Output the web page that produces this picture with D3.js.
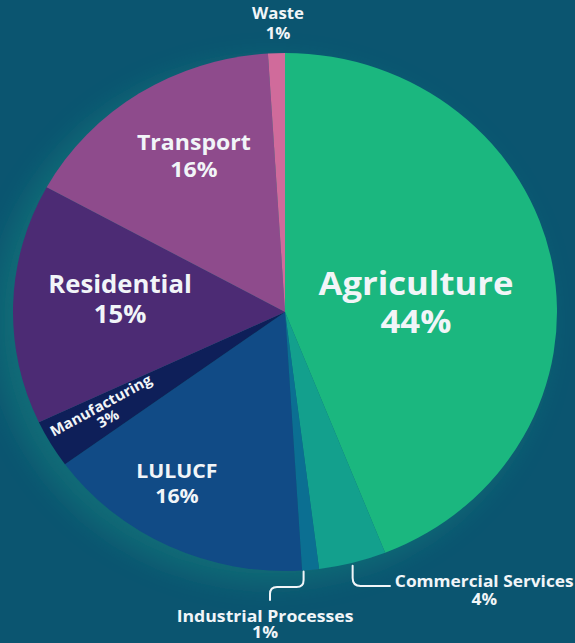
<!DOCTYPE html>
<html>
<head>
<meta charset="utf-8">
<script src="https://cdn.jsdelivr.net/npm/d3@7"></script>
<style>
  html, body { margin: 0; padding: 0; background: #0b5570; }
  svg { display: block; }
  text { font-family: "Open Sans", "Noto Sans", sans-serif; font-weight: 700; fill: #f1f5f8; }
</style>
</head>
<body>
<svg id="chart" width="575" height="643"></svg>
<script>
// Emission shares by sector (%), clockwise from 12 o'clock
const sectors = ["Agriculture", "Commercial Services", "Industrial Processes", "LULUCF",
                 "Manufacturing", "Residential", "Transport", "Waste"];
const shares  = [44, 4, 1, 16, 3, 15, 16, 1];
const colors  = ["#1bb77f", "#13a08d", "#0b6f92", "#114b86",
                 "#0e1f59", "#4c2b74", "#8e4b8c", "#d06b9b"];

// Label placement: angle (deg, clockwise from top) and radius as a fraction of the pie radius
const labelLayout = {
  "Agriculture":          { angle: 82.2,  rf: 0.486, size: 33,   gap: 38, rotate: 0 },
  "Commercial Services":  { angle: 145.4, rf: 1.29,  size: 16.5, gap: 18, rotate: 0 },
  "Industrial Processes": { angle: 183.5, rf: 1.199, size: 16.8, gap: 16, rotate: 0 },
  "LULUCF":               { angle: 211.8, rf: 0.754, size: 20.2, gap: 25, rotate: 0 },
  "Manufacturing":        { angle: 240.5, rf: 0.768, size: 14.5, gap: 15, rotate: -28.5 },
  "Residential":          { angle: 276.9, rf: 0.611, size: 24.5, gap: 30, rotate: 0 },
  "Transport":            { angle: 331.8, rf: 0.709, size: 22,   gap: 27, rotate: 0 },
  "Waste":                { angle: 358.7, rf: 1.131, size: 16,   gap: 20, rotate: 0 }
};

const svg = d3.select("#chart");
const cx = 285, cy = 312, rx = 272, ry = 259;
const stretch = rx / ry;   // the whole graphic is drawn slightly wide

const data = sectors.map((s, i) => ({ sector: s, value: shares[i], color: colors[i] }));

const pie = d3.pie().value(d => d.value).sort(null);
const arcs = pie(data);
const arc = d3.arc().innerRadius(0).outerRadius(ry);

// soft teal glow behind the lower-left of the pie
const defs = svg.append("defs");
defs.append("filter").attr("id", "glow")
  .attr("x", "-30%").attr("y", "-30%").attr("width", "160%").attr("height", "160%")
  .append("feGaussianBlur").attr("stdDeviation", 14);

svg.append("ellipse")
  .attr("cx", cx - 14).attr("cy", cy + 10)
  .attr("rx", rx + 4).attr("ry", ry + 2)
  .attr("fill", "#15877f").attr("opacity", 0.45)
  .attr("filter", "url(#glow)");

const pieG = svg.append("g")
  .attr("transform", `translate(${cx},${cy}) scale(${stretch},1)`);

pieG.selectAll("path.slice")
  .data(arcs)
  .join("path")
  .attr("class", "slice")
  .attr("d", arc)
  .attr("fill", d => d.data.color);

// point on the (elliptical) pie at a given angle and radius fraction
function polar(angleDeg, rf) {
  const a = angleDeg * Math.PI / 180;
  return [cx + rx * rf * Math.sin(a), cy - ry * rf * Math.cos(a)];
}

// leader lines for the two thin bottom slices
const mid = d => (d.startAngle + d.endAngle) / 2 * 180 / Math.PI;
const commercial = arcs.find(d => d.data.sector === "Commercial Services");
const industrial = arcs.find(d => d.data.sector === "Industrial Processes");

const leaders = svg.append("g")
  .attr("fill", "none").attr("stroke", "#f1f5f8").attr("stroke-width", 2)
  .attr("stroke-linecap", "round");

{
  const [x0, y0] = polar(mid(commercial), 1);
  const yH = 586;
  leaders.append("path").attr("d",
    `M${x0},${y0 + 3} V${yH - 8} Q${x0},${yH} ${x0 + 8},${yH} H390`);
}
{
  const [xr] = polar(mid(industrial), 1);
  const x0 = xr - 7;
  const y0 = cy + ry * Math.sqrt(1 - ((x0 - cx) / rx) ** 2);
  const yH = 587;
  leaders.append("path").attr("d",
    `M${x0},${y0 + 1} V${yH - 7} Q${x0},${yH} ${x0 - 7},${yH} H277 Q270,${yH} 270,${yH + 7} V600`);
}

// sector labels: name + share, as one two-line text
const labels = svg.append("g").selectAll("text.label")
  .data(data)
  .join("text")
  .attr("class", "label")
  .attr("text-anchor", "middle")
  .attr("font-size", d => labelLayout[d.sector].size)
  .attr("transform", d => {
    const L = labelLayout[d.sector];
    const [x, y] = polar(L.angle, L.rf);
    return `translate(${x},${y}) rotate(${L.rotate}) scale(${stretch},1)`;
  });

labels.append("tspan")
  .attr("x", 0).attr("y", 0)
  .text(d => d.sector);
labels.append("tspan")
  .attr("x", 0)
  .attr("y", d => labelLayout[d.sector].gap)
  .text(d => d.value + "%");
</script>
</body>
</html>
